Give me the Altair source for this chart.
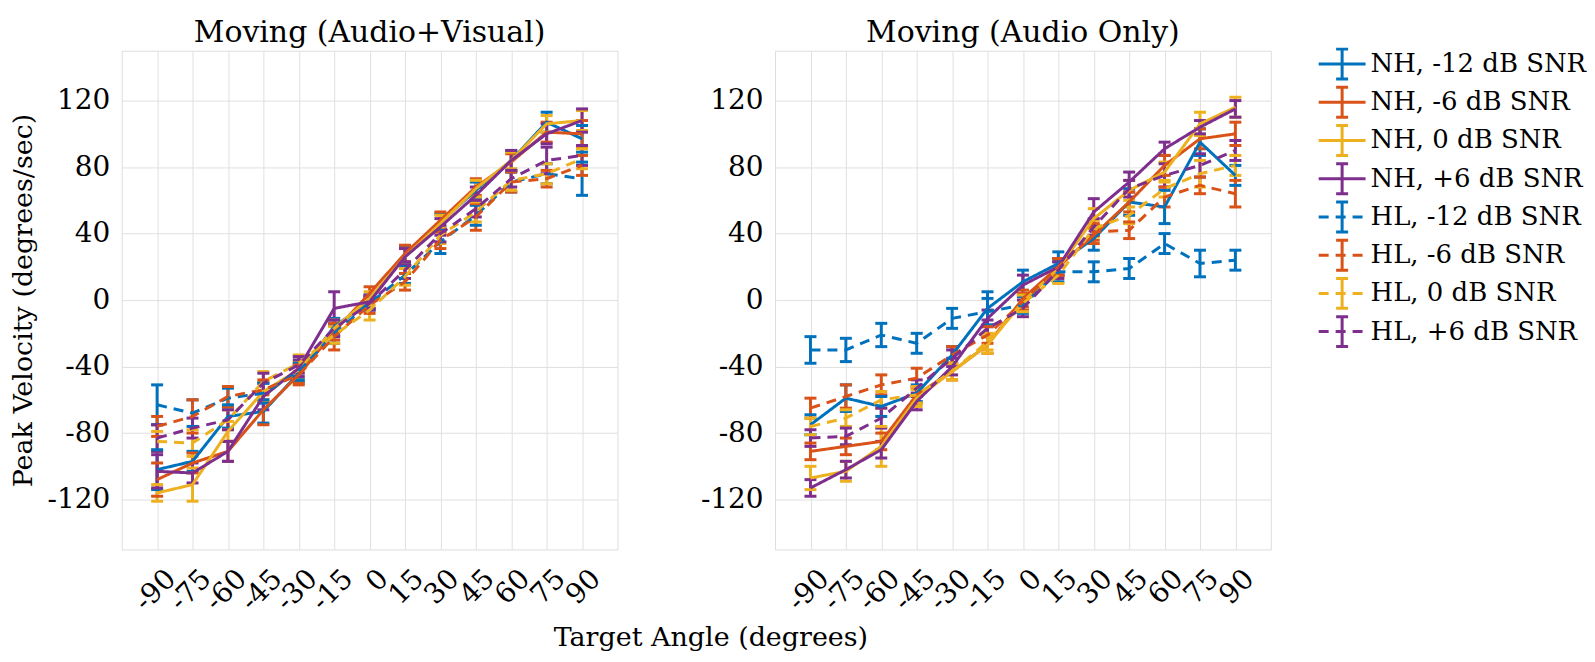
import altair as alt
import pandas as pd

angles = [-90, -75, -60, -45, -30, -15, 0, 15, 30, 45, 60, 75, 90]
series_names = ["NH, -12 dB SNR", "NH, -6 dB SNR", "NH, 0 dB SNR", "NH, +6 dB SNR",
                "HL, -12 dB SNR", "HL, -6 dB SNR", "HL, 0 dB SNR", "HL, +6 dB SNR"]
colors = ["#0072BD", "#D95319", "#EDB120", "#7E2F8E",
          "#0072BD", "#D95319", "#EDB120", "#7E2F8E"]

# ---- Moving (Audio+Visual): means ----
av_nh_m12 = [-102, -97, -70, -67, -44, -16, -1, 27, 47, 66, 84, 107, 97]
av_nh_m6 = [-108, -98, -91, -66, -45, -19, 4, 28, 48, 68, 83, 101, 100]
av_nh_0 = [-116, -111, -79, -55, -42, -17, 1, 26, 46, 67, 84, 106, 108]
av_nh_p6 = [-103, -104, -91, -58, -41, -5, -1, 26, 44, 63, 84, 100, 108]
av_hl_m12 = [-63, -68, -59, -56, -43, -20, -2, 15, 35, 51, 71, 76, 73]
av_hl_m6 = [-76, -70, -58, -54, -45, -22, -3, 11, 36, 50, 71, 73, 81]
av_hl_0 = [-85, -86, -72, -49, -38, -21, -6, 14, 39, 53, 72, 76, 85]
av_hl_p6 = [-83, -77, -72, -50, -39, -17, -2, 18, 40, 55, 73, 84, 87]
# ---- Moving (Audio+Visual): error half-widths ----
av_err_nh_m12 = [12, 6, 7, 7, 5, 5, 4, 5, 5, 5, 6, 6, 8]
av_err_nh_m6 = [10, 6, 6, 9, 5, 5, 4, 5, 5, 5, 5, 6, 8]
av_err_nh_0 = [5, 10, 6, 6, 5, 5, 4, 5, 5, 5, 5, 5, 6]
av_err_nh_p6 = [10, 6, 6, 8, 5, 10, 4, 5, 5, 5, 6, 6, 7]
av_err_hl_m12 = [12, 8, 6, 6, 5, 6, 4, 5, 7, 6, 6, 6, 10]
av_err_hl_m6 = [6, 10, 6, 6, 6, 8, 5, 5, 5, 8, 6, 5, 6]
av_err_hl_0 = [6, 8, 6, 6, 5, 5, 6, 5, 5, 6, 6, 6, 6]
av_err_hl_p6 = [8, 6, 6, 6, 5, 5, 4, 5, 5, 5, 5, 8, 6]

# ---- Moving (Audio Only): means ----
ao_nh_m12 = [-75, -59, -64, -56, -33, -5, 11, 22, 37, 59, 56, 95, 75]
ao_nh_m6 = [-91, -88, -85, -57, -43, -27, 1, 20, 39, 59, 81, 97, 100]
ao_nh_0 = [-107, -103, -88, -59, -43, -27, -1, 19, 49, 66, 77, 106, 116]
ao_nh_p6 = [-113, -102, -90, -61, -40, -11, 9, 20, 53, 71, 91, 104, 115]
ao_hl_m12 = [-30, -30, -21, -26, -11, -7, -3, 17, 17, 19, 34, 22, 24]
ao_hl_m6 = [-65, -58, -51, -47, -33, -21, -1, 20, 41, 42, 62, 69, 64]
ao_hl_0 = [-76, -71, -60, -57, -43, -25, -2, 15, 43, 51, 67, 76, 81]
ao_hl_p6 = [-83, -82, -71, -53, -35, -17, -5, 18, 44, 67, 75, 81, 90]
# ---- Moving (Audio Only): error half-widths ----
ao_err_nh_m12 = [6, 8, 6, 5, 5, 10, 7, 7, 7, 8, 10, 8, 6]
ao_err_nh_m6 = [5, 5, 5, 5, 5, 5, 5, 5, 5, 6, 6, 6, 7]
ao_err_nh_0 = [7, 6, 12, 5, 5, 5, 5, 5, 6, 6, 6, 7, 6]
ao_err_nh_p6 = [5, 5, 5, 5, 5, 5, 6, 5, 8, 6, 4, 4, 5]
ao_err_hl_m12 = [8, 7, 7, 6, 6, 8, 5, 6, 6, 6, 6, 8, 6]
ao_err_hl_m6 = [6, 7, 6, 6, 5, 5, 5, 5, 5, 5, 6, 5, 8]
ao_err_hl_0 = [5, 5, 5, 5, 5, 5, 5, 5, 5, 5, 5, 8, 6]
ao_err_hl_p6 = [5, 5, 6, 5, 5, 5, 5, 5, 5, 5, 7, 7, 6]

y_ticks = [-120, -80, -40, 0, 40, 80, 120]

FONT = "DejaVu Serif"
TXT = "#000000"
GRID = "#e0e0e0"


def build_df(means, errs):
    rows = []
    for name, m, e in zip(series_names, means, errs):
        for a, v, d in zip(angles, m, e):
            rows.append({"angle": a, "value": v, "lo": v - d, "hi": v + d, "series": name})
    return pd.DataFrame(rows)


av_df = build_df([av_nh_m12, av_nh_m6, av_nh_0, av_nh_p6, av_hl_m12, av_hl_m6, av_hl_0, av_hl_p6],
                 [av_err_nh_m12, av_err_nh_m6, av_err_nh_0, av_err_nh_p6,
                  av_err_hl_m12, av_err_hl_m6, av_err_hl_0, av_err_hl_p6])
ao_df = build_df([ao_nh_m12, ao_nh_m6, ao_nh_0, ao_nh_p6, ao_hl_m12, ao_hl_m6, ao_hl_0, ao_hl_p6],
                 [ao_err_nh_m12, ao_err_nh_m6, ao_err_nh_0, ao_err_nh_p6,
                  ao_err_hl_m12, ao_err_hl_m6, ao_err_hl_0, ao_err_hl_p6])

color_scale = alt.Scale(domain=series_names, range=colors)
dash_scale = alt.Scale(domain=series_names, range=[[1, 0]] * 4 + [[10, 7]] * 4)


def panel(df, title, y_title):
    x_enc = alt.X("angle:Q", scale=alt.Scale(domain=[-105, 105], nice=False, zero=False),
                  axis=alt.Axis(values=angles, labelAngle=315, labelAlign="right",
                                labelBaseline="middle", labelFontSize=28, labelFont=FONT,
                                labelColor=TXT, labelPadding=25, labelOffset=14,
                                labelOverlap=False, labelExpr="'' + datum.value",
                                grid=True, gridColor=GRID, ticks=False, domain=False,
                                title=None))
    if y_title:
        y_axis = alt.Axis(values=y_ticks, labelFontSize=28, labelFont=FONT, labelColor=TXT,
                          labelPadding=12, labelExpr="'' + datum.value", labelOverlap=False,
                          grid=True, gridColor=GRID, ticks=False,
                          domain=False, title=y_title, titleFontSize=27, titleFont=FONT,
                          titleFontWeight="normal", titleColor=TXT, titlePadding=10)
    else:
        y_axis = alt.Axis(values=y_ticks, labelFontSize=28, labelFont=FONT, labelColor=TXT,
                          labelPadding=12, labelExpr="'' + datum.value", labelOverlap=False,
                          grid=True, gridColor=GRID, ticks=False,
                          domain=False, title=None)
    y_scale = alt.Scale(domain=[-150, 150], nice=False, zero=False)
    color = alt.Color("series:N", scale=color_scale, legend=None)

    base = alt.Chart(df)
    bars = base.mark_rule(strokeWidth=3).encode(
        x=x_enc, y=alt.Y("lo:Q", scale=y_scale, axis=y_axis), y2="hi:Q", color=color)
    cap_lo = base.mark_tick(orient="horizontal", size=12, thickness=3, opacity=1).encode(
        x="angle:Q", y="lo:Q", color=color)
    cap_hi = base.mark_tick(orient="horizontal", size=12, thickness=3, opacity=1).encode(
        x="angle:Q", y="hi:Q", color=color)
    lines = base.mark_line(strokeWidth=3).encode(
        x="angle:Q", y="value:Q", color=color,
        strokeDash=alt.StrokeDash("series:N", scale=dash_scale, legend=None))
    return alt.layer(bars, cap_lo, cap_hi, lines).properties(
        width=497, height=500,
        title=alt.TitleParams(title, fontSize=30, font=FONT, fontWeight="normal",
                              color=TXT, offset=3))


left = panel(av_df, "Moving (Audio+Visual)", "Peak Velocity (degrees/sec)")
right = panel(ao_df, "Moving (Audio Only)", None)

# ---- legend panel ----
leg_df = pd.DataFrame({"idx": list(range(len(series_names))), "series": series_names})
leg_y = alt.Y("idx:Q", scale=alt.Scale(domain=[-0.35, 12.7], reverse=True, nice=False, zero=False),
              axis=None)
leg_color = alt.Color("series:N", scale=color_scale, legend=None)
leg_dash = alt.StrokeDash("series:N", scale=alt.Scale(domain=series_names,
                                                      range=[[1, 0]] * 4 + [[12, 23]] * 4),
                          legend=None)
leg_base = alt.Chart(leg_df)
leg_line = leg_base.mark_rule(strokeWidth=3).encode(
    x=alt.value(0), x2=alt.value(47), y=leg_y, color=leg_color, strokeDash=leg_dash)
leg_bar = leg_base.mark_point(shape="M0,-1L0,1M-0.4,-1L0.4,-1M-0.4,1L0.4,1", filled=False,
                              strokeWidth=3, size=900, opacity=1).encode(
    x=alt.value(23.5), y=leg_y, color=leg_color)
leg_text = leg_base.mark_text(align="left", baseline="middle", fontSize=26, font=FONT,
                              color=TXT).encode(x=alt.value(52), y=leg_y, text="series:N")
legend = alt.layer(leg_line, leg_bar, leg_text).properties(
    width=255, height=500,
    title=alt.TitleParams(" ", fontSize=30, font=FONT, fontWeight="normal", offset=3),
    view=alt.ViewConfig(stroke="transparent"))

chart = alt.hconcat(alt.hconcat(left, right, spacing=81), legend, spacing=45).properties(
    padding=0,
    title=alt.TitleParams("Target Angle (degrees)", orient="bottom", anchor="middle",
                          dx=-87, fontSize=27, font=FONT, fontWeight="normal", color=TXT,
                          offset=9)
).configure_view(stroke="#262626", strokeWidth=1.3).configure(font=FONT)

chart.save("out.html", embed_options={"renderer": "svg", "actions": False})
